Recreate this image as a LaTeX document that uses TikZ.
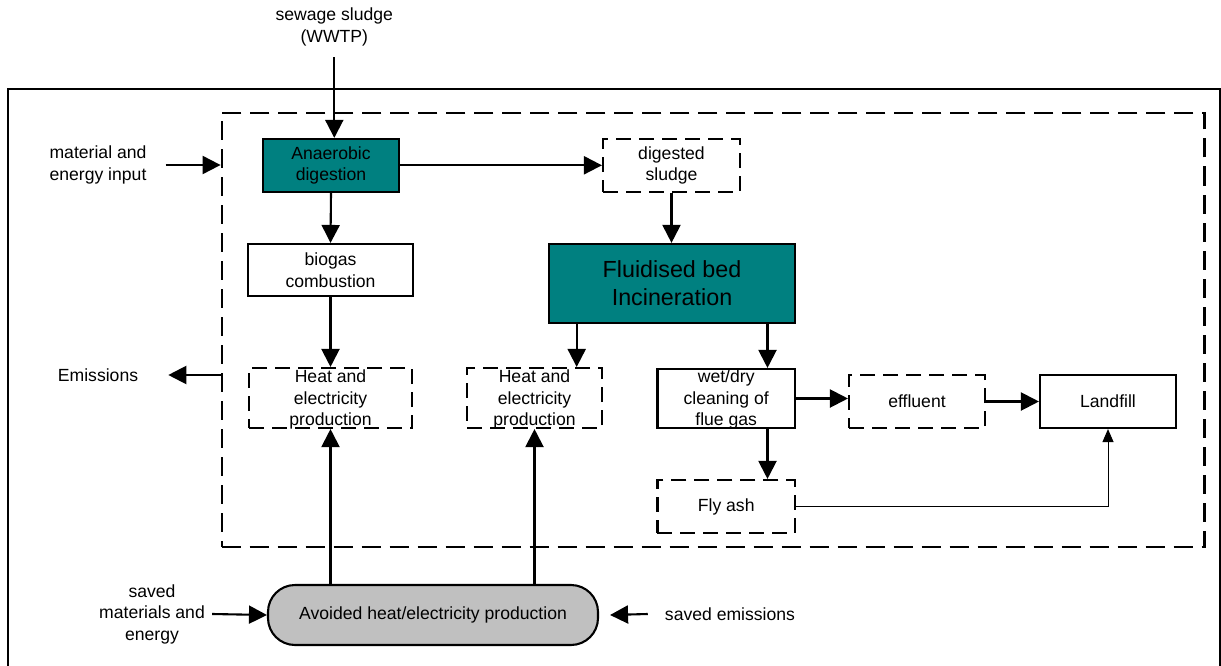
\documentclass[tikz,border=0pt]{standalone}
\usepackage{fontspec}
\setmainfont{Liberation Sans}
\usetikzlibrary{arrows.meta,calc}
\definecolor{procteal}{HTML}{008080}
\definecolor{avoidgray}{HTML}{C0C0C0}
\newcommand\txtsize{\fontsize{17.6}{21.5}\selectfont}
\newcommand\bigtxtsize{\fontsize{23.3}{27.7}\selectfont}
\tikzset{
  every node/.style={font=\txtsize, text=black},
  plainbox/.style={draw, line width=2.1pt, inner sep=0pt, align=center, fill=white},
  procbox/.style={plainbox, fill=procteal},
  dashbox/.style={draw, line width=2.1pt, dash pattern=on 15pt off 8pt, inner sep=0pt, align=center},
  sysbound/.style={draw, line width=2.2pt, dash pattern=on 19pt off 9pt, inner sep=0pt},
  pillbox/.style={draw, line width=2.1pt, fill=avoidgray, rounded corners=27pt, inner sep=0pt},
  plaintext/.style={align=center, inner sep=0pt},
  flow/.style={line width=2.1pt, -{Triangle[length=18pt,width=18pt]}},
  thinflow/.style={line width=1pt, -{Triangle[length=13pt,width=11pt]}}
}
\begin{document}
\begin{tikzpicture}[x=1pt,y=-1pt]
\useasboundingbox (0,0) rectangle (1221,666);

% outer system frame (open at the bottom edge)
\draw[line width=2.1pt] (8,666) -- (8,89) -- (1220,89) -- (1220,666);

% inner dashed boundary
\node[sysbound, minimum width=982.8pt, minimum height=434pt] (sys) at (713.1,329.7) {};

% process boxes
\node[procbox, minimum width=136.6pt, minimum height=52.7pt] (ad) at (331,165.3) {Anaerobic\\digestion};
\node[plainbox, minimum width=165pt, minimum height=52pt] (bio) at (330.5,270) {biogas\\combustion};
\node[dashbox, minimum width=137pt, minimum height=52.7pt] (dig) at (671.5,165.3) {digested\\sludge};
\node[procbox, minimum width=246pt, minimum height=78.7pt, font=\bigtxtsize] (fbi) at (672,283.3) {Fluidised bed\\Incineration};
\node[dashbox, minimum width=163pt, minimum height=60pt] (h1) at (330.5,398) {};
\node[dashbox, minimum width=135pt, minimum height=60pt] (h2) at (534.5,398) {};
\node[plainbox, minimum width=137.5pt, minimum height=59pt] (wet) at (726.2,398.5) {};
\node[dashbox, minimum width=136pt, minimum height=53pt] (eff) at (917,401.5) {effluent};
\node[plainbox, minimum width=136pt, minimum height=53pt] (land) at (1108,401.5) {Landfill};
\node[dashbox, minimum width=137.5pt, minimum height=53pt] (fly) at (726.2,506.5) {Fly ash};
\node[pillbox, minimum width=330pt, minimum height=60pt] (pill) at (433,615) {Avoided heat/electricity production};

% box texts that run over their frames
\node[plaintext] (h1t) at ([yshift=-1.5pt]h1) {Heat and\\electricity\\production};
\node[plaintext] (h2t) at ([yshift=-1.5pt]h2) {Heat and\\electricity\\production};
\node[plaintext] (wett) at ([yshift=-1pt]wet) {wet/dry\\cleaning of\\flue gas};

% free labels
\node[plaintext] (sew) at (334.3,27) {sewage sludge\\(WWTP)};
\node[plaintext] (mat) at (98,165) {material and\\energy input};
\node[plaintext] (em) at (98,375) {Emissions};
\node[plaintext] (sm) at (152,614) {saved\\materials and\\energy};
\node[plaintext] (se) at (730,614) {saved emissions};

% helper columns for the incinerator outlets
\coordinate (colL) at (576.7,0);
\coordinate (colR) at (767.5,0);

% flows
\draw[flow] ([yshift=-11pt]sew.south) -- (sew.south |- ad.north);
\draw[flow] ([xshift=19pt]mat.east) -- (mat.east -| sys.west);
\draw[flow] (em.east -| sys.west) -- ([xshift=30pt]em.east);
\draw[flow] (ad.east) -- (ad.east -| dig.west);
\draw[flow] (ad.south) -- (bio.north);
\draw[flow] (bio.south) -- (h1.north);
\draw[flow] (dig.south) -- (dig.south |- fbi.north);
\draw[flow] (colL |- fbi.south) -- (colL |- h2.north);
\draw[flow] (colR |- fbi.south) -- (colR |- wet.north);
\draw[flow] (wet.east) -- (wet.east -| eff.west);
\draw[flow] (eff.east) -- (eff.east -| land.west);
\draw[flow] (colR |- wet.south) -- (colR |- fly.north);
\draw[thinflow] (fly.east) -| (land.south);
\draw[flow] (h1.south |- pill.north) -- (h1.south);
\draw[flow] (h2.south |- pill.north) -- (h2.south);
\draw[flow] ([xshift=7pt]sm.east) -- (pill.west);
\draw[flow] ([xshift=-17pt]se.west) -- ([xshift=11pt]pill.east);
\end{tikzpicture}
\end{document}
